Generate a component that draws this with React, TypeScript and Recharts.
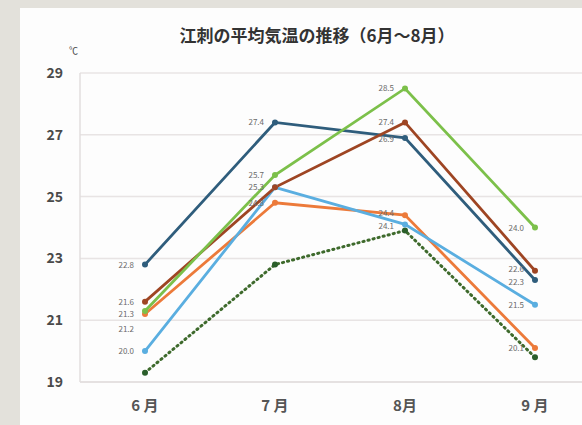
import React from 'react';
import { LineChart, Line, XAxis, YAxis, CartesianGrid } from 'recharts';

const months = ['6 月', '7 月', '8月', '9 月'];
const yTicks = [19, 21, 23, 25, 27, 29];

const darkBlue = [22.8, 27.4, 26.9, 22.3];
const green = [21.3, 25.7, 28.5, 24.0];
const brown = [21.6, 25.3, 27.4, 22.6];
const orange = [21.2, 24.8, 24.4, 20.1];
const lightBlue = [20.0, 25.3, 24.1, 21.5];
const dotted = [19.3, 22.8, 23.9, 19.8];

// which points carry a value label
const darkBlueLabels = [true, true, true, true];
const greenLabels = [true, true, true, true];
const brownLabels = [true, true, true, true];
const orangeLabels = [true, true, true, true];
const lightBlueLabels = [true, false, true, true];

const data = months.map((m, i) => ({
  month: m,
  darkBlue: darkBlue[i],
  green: green[i],
  brown: brown[i],
  orange: orange[i],
  lightBlue: lightBlue[i],
  dotted: dotted[i],
}));

const FONT = '"Noto Sans CJK JP", "Noto Sans", sans-serif';

const makeLabel = (show: boolean[], shiftY: number[] = [0, 0, 0, 0]) => (props: any) => {
  const { x, y, value, index } = props;
  if (!show[index]) return null;
  return (
    <text
      x={x - 11}
      y={y + shiftY[index]}
      dy={3}
      textAnchor="end"
      fontSize={8}
      fill="#6a6a6a"
      fontFamily={FONT}
    >
      {Number(value).toFixed(1)}
    </text>
  );
};

// label nudges, like the original's overlap avoidance
const series = [
  { key: 'dotted', color: '#3e6a2c' },
  { key: 'orange', color: '#ec7a3a', labels: orangeLabels, shift: [15, 0, -2, 0] },
  { key: 'lightBlue', color: '#5aaee0', labels: lightBlueLabels, shift: [0, 0, 2, 0] },
  { key: 'darkBlue', color: '#2f5d7c', labels: darkBlueLabels, shift: [0, 0, 1, 2] },
  { key: 'brown', color: '#9e4523', labels: brownLabels, shift: [0, 0, 0, -2] },
  { key: 'green', color: '#7cc04a', labels: greenLabels, shift: [3, 0, 0, 0] },
];

export default function App() {
  return (
    <div
      style={{
        position: 'absolute',
        top: 0,
        left: 0,
        width: 582,
        height: 425,
        overflow: 'hidden',
        background: '#e3e1db',
      }}
    >
      <div
        style={{
          position: 'absolute',
          left: 20,
          top: 8,
          width: 562,
          height: 417,
          background: '#fdfdfd',
        }}
      />
      <div
        style={{
          position: 'absolute',
          left: 0,
          width: 634,
          top: 22,
          textAlign: 'center',
          fontFamily: FONT,
          fontWeight: 700,
          fontSize: 17,
          color: '#333',
          whiteSpace: 'nowrap',
        }}
      >
        江刺の平均気温の推移（6月～8月）
      </div>
      <div
        style={{
          position: 'absolute',
          left: 69,
          top: 44,
          fontFamily: FONT,
          fontSize: 9,
          color: '#444',
        }}
      >
        ℃
      </div>
      <div style={{ position: 'absolute', left: 0, top: 0 }}>
        <LineChart
          width={620}
          height={425}
          data={data}
          margin={{ top: 73, right: 20, left: 20, bottom: 13 }}
        >
          <CartesianGrid vertical={false} stroke="#e8e4e4" strokeWidth={1.5} />
          <XAxis
            dataKey="month"
            height={30}
            padding={{ left: 65, right: 65 }}
            axisLine={{ stroke: '#e2dede', strokeWidth: 1.5 }}
            tickLine={false}
            tickMargin={12}
            tick={{ fontSize: 15, fontWeight: 700, fill: '#555', fontFamily: FONT }}
          />
          <YAxis
            width={60}
            domain={[19, 29]}
            ticks={yTicks}
            interval={0}
            axisLine={{ stroke: '#e2dede', strokeWidth: 1.5 }}
            tickLine={false}
            tickMargin={11}
            tick={{ fontSize: 14, fontWeight: 700, fill: '#4a4a4a', fontFamily: FONT }}
          />
          {series.map((s) => (
            <Line
              key={s.key}
              type="linear"
              dataKey={s.key}
              stroke={s.color}
              strokeWidth={s.key === 'dotted' ? 3 : 2.8}
              strokeDasharray={s.key === 'dotted' ? '1.2 4' : undefined}
              strokeLinecap={s.key === 'dotted' ? 'round' : 'butt'}
              dot={{ r: 3, fill: s.key === 'dotted' ? '#2a5e2a' : s.color, stroke: 'none' }}
              label={s.labels ? makeLabel(s.labels, s.shift) : undefined}
              isAnimationActive={false}
            />
          ))}
        </LineChart>
      </div>
    </div>
  );
}
